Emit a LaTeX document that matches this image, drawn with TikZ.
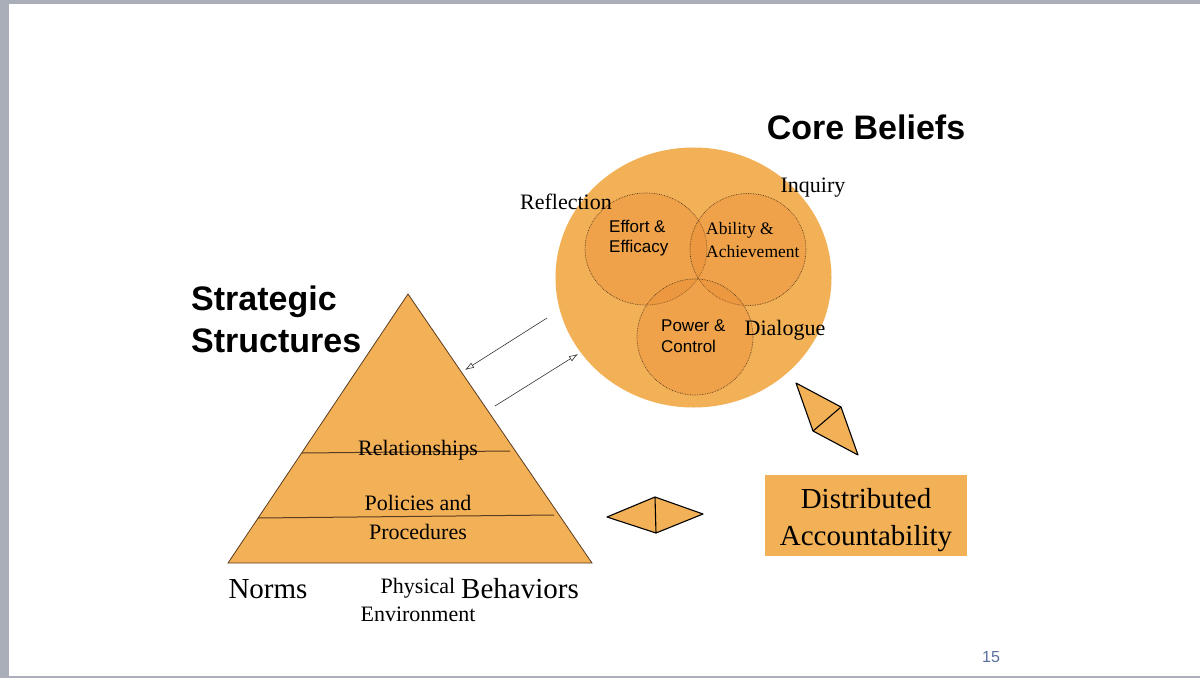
\documentclass[tikz,border=0pt]{standalone}
\usepackage{fontspec}
\setmainfont{Liberation Serif}
\newfontfamily\headfont{Liberation Sans}
\usepackage{tikz}
\usetikzlibrary{arrows.meta,positioning}
\definecolor{slidegray}{HTML}{A9AEB8}
\definecolor{beliefgold}{HTML}{F3B157}
\definecolor{beliefdeep}{HTML}{E8852E}
\definecolor{dotbrown}{HTML}{5A3C20}
\definecolor{pagenum}{HTML}{5A6FA0}
\tikzset{
  headtext/.style={font=\headfont\bfseries\fontsize{34}{42}\selectfont,align=left,inner sep=0pt},
  looptext/.style={font=\fontsize{22}{28}\selectfont,inner sep=0pt},
  bigtext/.style={font=\fontsize{29}{37}\selectfont,inner sep=0pt,align=center},
  innerring/.style={fill=beliefdeep,fill opacity=0.32,draw=dotbrown,draw opacity=1,densely dotted,line width=0.7pt},
  kite/.style={fill=beliefgold,draw=black,line width=1.1pt,line join=round},
  linkarrow/.style={-{Latex[open,length=9pt,width=6pt]},black!80,line width=0.6pt},
}
\begin{document}
\begin{tikzpicture}[x=1pt,y=-1pt,>=Latex]
  \useasboundingbox (0,0) rectangle (1200,678);
  \fill[slidegray] (0,0) rectangle (1200,678);
  \fill[white] (9,4) rectangle (1200,676);
  % core beliefs
  \fill[beliefgold] (693.5,277.5) ellipse [x radius=138, y radius=130];
  \draw[innerring] (646,249) ellipse [x radius=61, y radius=56];
  \draw[innerring] (748,249.5) ellipse [x radius=58, y radius=56];
  \draw[innerring] (695,337) ellipse [x radius=58, y radius=58];
  \node[headtext] (core) at (866,127) {Core Beliefs};
  \node[looptext] (refl) at (566,202) {Reflection};
  \node[looptext] (inq) at (813,188) {Inquiry};
  \node[looptext] (dial) at (785,330) {Dialogue};
  \node[font=\headfont\fontsize{17}{20.5}\selectfont,align=left,anchor=west,inner sep=0pt] (effort) at (609,238) {Effort \&\\Efficacy};
  \node[font=\fontsize{17.5}{23}\selectfont,align=left,anchor=west,inner sep=0pt] (ability) at (706,240) {Ability \&\\Achievement};
  \node[font=\headfont\fontsize{17}{20.5}\selectfont,align=left,anchor=west,inner sep=0pt] (power) at (661,336) {Power \&\\Control};
  % strategic structures
  \fill[beliefgold,draw=dotbrown,line width=0.8pt] (408,294) -- (592,563) -- (228,563) -- cycle;
  \draw[dotbrown,line width=1pt] (302,453) -- (510,451);
  \draw[dotbrown,line width=1pt] (258,518) -- (554,515);
  \node[headtext,anchor=west] (strat) at (191,319) {Strategic\\Structures};
  \node[looptext] (rel) at (418,450) {Relationships};
  \node[looptext,align=center,font=\fontsize{22}{29}\selectfont] (pol) at (418,517) {Policies and\\Procedures};
  \node[bigtext] (norms) at (268,589) {Norms};
  \node[bigtext] (behav) at (520,589) {Behaviors};
  \node[looptext,align=center,font=\fontsize{22}{28}\selectfont] (phys) at (418,600) {Physical\\Environment};
  % arrows
  \coordinate (a1) at (547,318);
  \coordinate (b1) at (465,370);
  \coordinate (a2) at (495,406);
  \coordinate (b2) at (578,354);
  \draw[linkarrow] (a1) -- (b1);
  \draw[linkarrow] (a2) -- (b2);
  % kites
  \draw[kite] (796,383) -- (841,407) -- (858,455) -- (813,431) -- cycle;
  \draw[kite] (813,431) -- (841,407);
  \draw[kite] (607,517) -- (655,497) -- (703,514) -- (656,533) -- cycle;
  \draw[kite] (655,497) -- (656,533);
  % distributed accountability
  \node[fill=beliefgold,minimum width=202,minimum height=81,inner sep=0pt] (distbox) at (866,515.5) {};
  \node[bigtext] (dist) at (866,520) {Distributed\\Accountability};
  \node[font=\headfont\fontsize{16}{19}\selectfont,text=pagenum,inner sep=0pt] (pg) at (991,657) {15};
\end{tikzpicture}
\end{document}
